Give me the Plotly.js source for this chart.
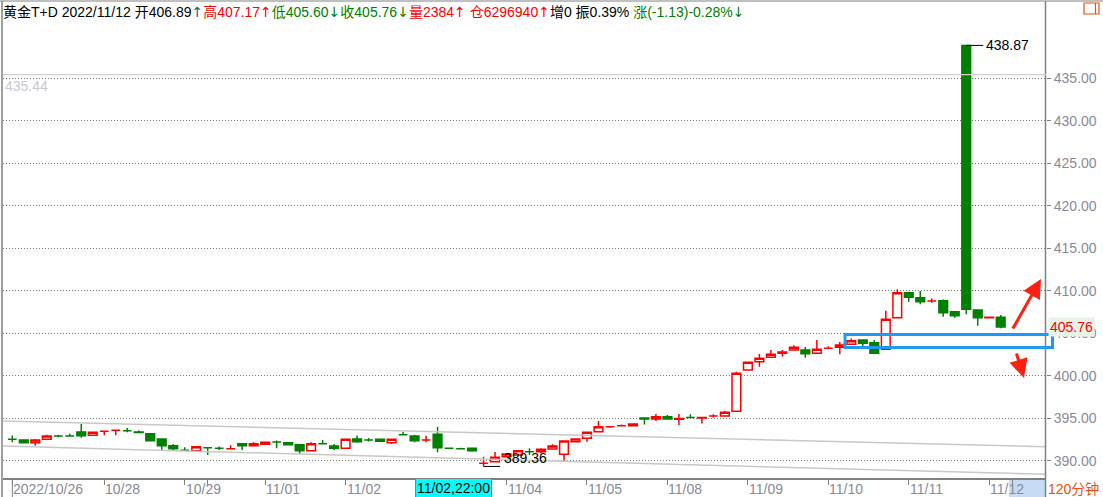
<!DOCTYPE html>
<html>
<head>
<meta charset="utf-8">
<script src="https://cdn.plot.ly/plotly-3.0.1.min.js"></script>
<style>
html,body{margin:0;padding:0;background:#fff;}
#chart{width:1103px;height:497px;}
</style>
</head>
<body>
<div id="chart"></div>
<script>
// ---- data (120-minute bars, 黄金T+D) ----
const openP  = [392.55,392.47,392.15,392.55,392.94,392.94,393.41,393.02,393.49,393.61,
                393.56,393.40,393.21,392.59,391.80,391.26,391.21,391.56,391.49,391.45,
                392.03,391.80,391.96,392.23,392.15,391.92,391.21,392.03,391.76,391.49,
                392.59,392.47,392.55,392.15,393.10,392.94,392.47,393.14,391.49,391.45,
                391.49,389.73,389.92,390.50,390.70,391.09,391.09,391.41,390.79,392.27,
                392.67,393.44,394.03,394.15,394.15,395.05,394.94,395.20,394.90,395.10,
                395.05,395.30,395.29,395.84,400.70,401.67,402.19,402.66,403.05,403.05,
                402.66,403.25,403.37,403.72,404.23,403.91,403.13,406.85,409.79,409.20,
                408.81,408.85,407.55,438.87,407.75,406.85,406.89];
const highP  = [393.00,392.50,392.60,393.09,393.09,393.20,394.35,393.40,393.49,393.61,
                393.88,393.60,393.30,392.59,392.00,391.61,391.75,391.56,391.70,391.85,
                392.03,392.20,392.20,392.40,392.15,392.00,392.20,392.47,392.00,392.55,
                393.00,392.70,392.55,392.55,393.40,393.10,392.97,394.03,391.60,391.55,
                391.49,390.50,391.06,390.85,391.21,391.50,391.50,391.96,392.35,392.59,
                393.37,394.70,394.03,394.30,394.35,395.05,395.53,395.40,395.53,395.50,
                395.12,395.50,395.90,400.50,401.70,402.58,403.05,403.05,403.60,403.40,
                404.23,403.50,404.00,404.40,404.23,404.23,407.67,410.19,409.90,410.00,
                409.10,409.00,407.55,438.87,407.75,406.89,407.17];
const lowP   = [392.20,392.12,391.80,392.55,392.80,392.90,392.74,393.00,393.02,393.02,
                393.37,393.30,392.39,391.29,391.18,391.26,391.21,390.70,391.30,391.45,
                391.29,391.80,391.96,391.49,391.92,390.82,391.21,391.95,391.30,391.49,
                392.15,392.30,392.32,392.00,393.10,392.20,392.20,391.02,391.40,391.40,
                391.10,389.36,389.90,390.50,390.70,390.70,390.90,391.41,390.00,392.27,
                392.27,393.44,393.90,394.15,394.15,394.30,394.70,394.94,394.23,395.10,
                394.40,395.10,395.29,395.76,400.70,401.09,402.10,402.30,403.05,402.15,
                402.66,403.25,402.55,403.72,403.52,402.66,403.10,406.80,408.73,408.42,
                408.60,406.97,406.85,407.25,405.90,406.85,405.60];
const closeP = [392.55,392.15,392.47,392.94,392.94,392.94,392.97,393.37,393.49,393.61,
                393.56,393.35,392.39,391.80,391.45,391.26,391.68,391.56,391.49,391.45,
                391.80,392.03,392.20,392.23,391.92,391.21,392.03,392.03,391.49,392.55,
                392.27,392.47,392.32,392.55,393.10,392.39,392.47,391.56,391.49,391.45,
                391.21,389.73,390.44,390.82,391.21,391.09,391.38,391.76,392.35,392.59,
                393.37,394.03,394.03,394.15,394.35,394.95,395.20,394.94,395.00,395.10,
                395.12,395.30,395.73,400.31,401.60,402.08,402.55,402.82,403.37,402.62,
                403.13,403.25,403.64,404.14,403.84,402.66,406.66,409.79,409.25,408.73,
                408.81,407.44,407.08,407.84,406.85,406.89,405.76];
// 1 = red (rising) candle, 0 = green (falling) candle, as drawn in the picture
const upFlag = [0,0,1,1,0,0,0,1,1,1, 0,0,0,0,0,0,1,0,0,1, 0,1,1,0,0,0,1,0,0,1,
                0,0,0,1,0,0,1,0,0,0, 0,1,1,1,1,0,1,1,1,1, 1,1,1,1,1,0,1,0,1,0,
                1,1,1,1,1,1,1,1,1,0, 1,1,1,1,0,0,1,1,0,0, 1,0,0,0,0,1,0];

// x-axis date ticks (bar index) and labels
const tickIdx  = [0, 8, 15, 17, 22, 29, 43, 50, 57, 64, 71, 78, 85, 87];
const tickText = ['2022/10/26','10/28','10/29','','11/01','11/02','11/04','11/05','11/08','11/09','11/10','11/11','11/12',''];

// y-axis price ticks
const priceTicks = [390,395,400,405,410,415,420,425,430,435];

// channel lines (value at left edge, value at right edge)
const channelX   = [-0.81, 89.94];
const upperLine  = [394.70, 391.68];
const lowerLine  = [391.76, 388.43];

// marked values
const refLevel   = 435.44;
const maxMark    = {idx: 83, value: 438.87};
const minMark    = {idx: 41, value: 389.36};
const lastPrice  = 405.76;
const cursorText = '11/02,22:00';
const periodText = '120分钟';

// header quote
const hdr = {name:'黄金T+D', date:'2022/11/12', open:'406.89', high:'407.17', low:'405.60',
             close:'405.76', vol:'2384', oi:'6296940', add:'0', amp:'0.39%', chg:'(-1.13)-0.28%'};

// ---- build traces ----
const idxAll = openP.map((_, i) => i);
function candleTrace(flag, lineColor, fill) {
  const ids = idxAll.filter(i => upFlag[i] === flag);
  const style = {line: {color: lineColor, width: 1.5}, fillcolor: fill};
  return {
    type: 'candlestick',
    x: ids,
    open: ids.map(i => openP[i]),
    high: ids.map(i => highP[i]),
    low: ids.map(i => lowP[i]),
    close: ids.map(i => closeP[i]),
    increasing: style, decreasing: style,
    whiskerwidth: 0,
    hoverinfo: 'skip', showlegend: false
  };
}
const GREEN = '#008000', RED = '#ff0000';
const traces = [
  {type:'scatter', mode:'lines', x: channelX, y: upperLine, line:{color:'#c8c8c8', width:1.5}, hoverinfo:'skip', showlegend:false},
  {type:'scatter', mode:'lines', x: channelX, y: lowerLine, line:{color:'#c8c8c8', width:1.5}, hoverinfo:'skip', showlegend:false},
  candleTrace(1, RED, '#ffffff'),
  candleTrace(0, GREEN, GREEN)
];

// ---- geometry helpers (pixel -> paper) ----
const L = 3, R = 57, T = 1, B = 19, W = 1103, H = 497;
const pw = W - L - R, ph = H - T - B;
const px = p => (p - L) / pw;
const py = p => (H - B - p) / ph;

const LABEL_FONT = 'Liberation Sans, Arial, Noto Sans CJK SC, sans-serif';
const AX_GRAY = '#8a8a96';
const arrow = (ch, color) => '<span style="font-family:DejaVu Sans;color:' + color + '">' + ch + '</span>';

const annotations = [];
// header
annotations.push({
  xref:'paper', yref:'paper', x: px(1), y: py(12), xanchor:'left', yanchor:'middle', showarrow:false,
  font:{family: LABEL_FONT, size:14, color:'#000'},
  text: hdr.name + ' ' + hdr.date + ' 开' + hdr.open + arrow('↑', '#1c5f78') +
        '<span style="color:#ff0000">高' + hdr.high + '</span>' + arrow('↑', '#ff0000') +
        '<span style="color:#008000">低' + hdr.low + '</span>' + arrow('↓', '#008000') +
        '<span style="color:#008000">收' + hdr.close + '</span>' + arrow('↓', '#008000') +
        '<span style="color:#ff0000">量' + hdr.vol + '</span>' + arrow('↑', '#ff0000') +
        '<span style="color:#ff0000"> 仓' + hdr.oi + '</span>' + arrow('↑', '#ff0000') +
        '增' + hdr.add + ' 振' + hdr.amp + ' ' +
        '<span style="color:#008000">涨' + hdr.chg + '</span>' + arrow('↓', '#008000')
});
// x labels
tickIdx.forEach((v, k) => {
  if (!tickText[k]) return;
  annotations.push({xref:'x', yref:'paper', x: v, y: py(488.5), xanchor:'left', yanchor:'middle',
    xshift: -1, showarrow:false, text: tickText[k], font:{family: LABEL_FONT, size:14, color: AX_GRAY}});
});
// cursor label
annotations.push({xref:'paper', yref:'paper', x: px(453.5), y: py(488), xanchor:'center', yanchor:'middle',
  showarrow:false, text: cursorText, bgcolor:'#00ffff', bordercolor:'#808080', borderwidth:1, borderpad:1,
  font:{family: LABEL_FONT, size:14, color:'#000'}});
// period
annotations.push({xref:'paper', yref:'paper', x: px(1046), y: py(488.5), xanchor:'left', yanchor:'middle',
  showarrow:false, text: periodText, font:{family: LABEL_FONT, size:14, color:'#e8500c'}});
// max / min marks
annotations.push({xref:'x', yref:'y', x: maxMark.idx + 1.55, y: maxMark.value, xanchor:'left', yanchor:'middle',
  showarrow:false, text: maxMark.value.toFixed(2), font:{family: LABEL_FONT, size:14, color:'#000'}});
annotations.push({xref:'x', yref:'y', x: minMark.idx + 1.6, y: minMark.value, xanchor:'left', yanchor:'middle',
  yshift: 8, showarrow:false, text: minMark.value.toFixed(2), font:{family: LABEL_FONT, size:14, color:'#000'}});
// reference level label
annotations.push({xref:'paper', yref:'y', x: 0, y: refLevel, xanchor:'left', yanchor:'top', yshift:-1,
  showarrow:false, text: refLevel.toFixed(2), font:{family: LABEL_FONT, size:14, color:'#c8c8d2'}});
// last price tag
annotations.push({xref:'paper', yref:'y', x: px(1048), y: lastPrice, xanchor:'left', yanchor:'middle',
  showarrow:false, text: lastPrice.toFixed(2), bgcolor:'#e6f3e6', borderpad:1,
  font:{family: LABEL_FONT, size:14, color:'#ff0000'}});
// red arrows
annotations.push({xref:'paper', yref:'paper', x: px(1041), y: py(279), ax: -29, ay: 51, axref:'pixel', ayref:'pixel',
  showarrow:true, arrowhead:2, arrowsize:1.25, arrowwidth:3, arrowcolor:'#ff2010', text:''});
annotations.push({xref:'paper', yref:'paper', x: px(1024), y: py(378), ax: -8, ay: -26, axref:'pixel', ayref:'pixel',
  showarrow:true, arrowhead:2, arrowsize:1.25, arrowwidth:3, arrowcolor:'#ff2010', text:''});

const shapes = [
  // 11/12 highlight
  {type:'rect', xref:'paper', yref:'paper', x0: px(1009), x1: px(1045), y0: py(497), y1: py(479),
   fillcolor:'#c6dcf5', line:{width:0}, layer:'below'},
  // frame
  {type:'line', xref:'paper', yref:'paper', x0: px(0), x1: px(1103), y0: py(1), y1: py(1), line:{color:'#808080', width:1}},
  {type:'line', xref:'paper', yref:'paper', x0: px(2), x1: px(2), y0: py(497), y1: py(1), line:{color:'#808080', width:1.5}},
  {type:'line', xref:'paper', yref:'paper', x0: px(1045.5), x1: px(1045.5), y0: py(497), y1: py(1), line:{color:'#808080', width:1.5}},
  // first session separator tick
  {type:'line', xref:'paper', yref:'paper', x0: px(12.3), x1: px(12.3), y0: py(478), y1: py(497), line:{color:'#808080', width:1}},
  // reference level line
  {type:'line', xref:'paper', yref:'y', x0: 0, x1: 1, y0: refLevel, y1: refLevel, line:{color:'#cfcfcf', width:1.2}},
  // max / min marker lines
  {type:'line', xref:'x', yref:'y', x0: maxMark.idx, x1: maxMark.idx + 1.48, y0: maxMark.value, y1: maxMark.value, line:{color:'#000', width:1}},
  {type:'line', xref:'x', yref:'y', x0: minMark.idx, x1: minMark.idx + 1.45, y0: minMark.value, y1: minMark.value, line:{color:'#000', width:1}},
  // blue box
  {type:'rect', xref:'paper', yref:'paper', x0: px(845), x1: px(1052.5), y0: py(347.5), y1: py(334.5),
   line:{color:'#1e9af2', width:3}, fillcolor:'rgba(0,0,0,0)'},
  // icon
  {type:'rect', xref:'paper', yref:'paper', x0: px(1084), x1: px(1099), y0: py(14), y1: py(3),
   line:{color:'#e05414', width:1.2}, fillcolor:'rgba(0,0,0,0)'},
  {type:'line', xref:'paper', yref:'paper', x0: px(1095.5), x1: px(1095.5), y0: py(14), y1: py(3),
   line:{color:'#e05414', width:1.2}}
];

const layout = {
  width: W, height: H,
  margin: {l: L, r: R, t: T, b: B, pad: 0},
  paper_bgcolor: '#ffffff', plot_bgcolor: '#ffffff',
  showlegend: false,
  boxgap: 0.2, boxgroupgap: 0.05,
  xaxis: {
    type: 'linear', range: [-0.81, 89.94], fixedrange: true,
    rangeslider: {visible: false},
    showgrid: false, zeroline: false,
    showline: true, linecolor: '#808080', linewidth: 1.5,
    tickmode: 'array', tickvals: tickIdx, ticktext: tickIdx.map(() => ''),
    ticks: 'outside', ticklen: 5, tickcolor: '#808080', tickwidth: 1
  },
  yaxis: {
    side: 'right', range: [388.0, 444.09], fixedrange: true,
    tickmode: 'array', tickvals: priceTicks, ticktext: priceTicks.map(v => v.toFixed(2)),
    ticks: 'outside', ticklen: 4, tickcolor: '#808080', tickwidth: 1,
    tickfont: {family: LABEL_FONT, size: 14, color: AX_GRAY},
    showgrid: true, gridcolor: '#7a7a7a', gridwidth: 1, griddash: '1px,2px',
    zeroline: false, showline: false
  },
  annotations: annotations,
  shapes: shapes
};

Plotly.newPlot('chart', traces, layout, {staticPlot: true, displayModeBar: false});
</script>
</body>
</html>
